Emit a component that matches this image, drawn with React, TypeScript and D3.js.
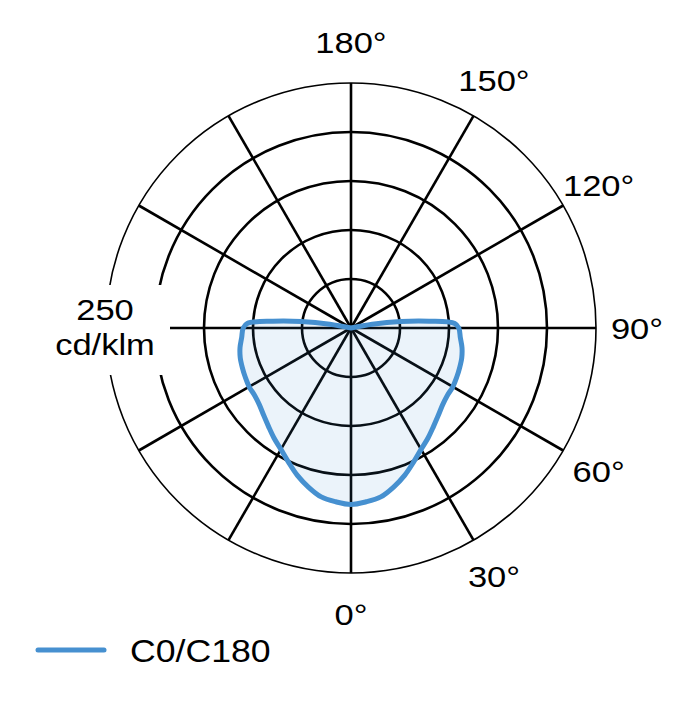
import React, { useEffect, useRef } from "react";
import * as d3 from "d3";

// gamma angles (deg from nadir) and intensity in cd/klm, C0/C180 plane (symmetric)
const gammaAngles = [
  0, 5, 10, 15, 20, 25, 30, 35, 40, 45, 50, 55, 60, 65, 70, 75, 80, 85, 90,
  92.5, 95, 97.5, 100, 102.5,
];
const c0c180Values = [
  180, 178, 175, 168, 160, 151, 143, 137, 131, 126, 122, 120, 120, 119, 118,
  117, 115, 112, 110, 106, 80, 51, 22, 0,
];
const ringValues = [50, 100, 150, 200, 250];
const spokeAngles = [0, 30, 60, 90, 120, 150, 180, 210, 240, 270, 300, 330];
const angleLabels = [0, 30, 60, 90, 120, 150, 180];
const seriesName = "C0/C180";
const unitLabel = ["250", "cd/klm"];

const App: React.FC = () => {
  const svgRef = useRef<SVGSVGElement | null>(null);

  useEffect(() => {
    const width = 680;
    const height = 720;
    const cx = 351;
    const cy = 328;
    const maxR = 245;
    const font = "'Liberation Sans', Arial, sans-serif";
    const blue = "#4690d0";
    const stretch = 1.15; // the reference face is wider than Arial

    const svg = d3
      .select(svgRef.current)
      .attr("width", width)
      .attr("height", height)
      .attr("viewBox", [0, 0, width, height]);
    svg.selectAll("*").remove();

    const r = d3.scaleLinear().domain([0, 250]).range([0, maxR]);
    // gamma 0 points down, 90 to the right
    const toRad = (deg: number) => Math.PI - (deg * Math.PI) / 180;

    const label = (
      parent: d3.Selection<any, any, any, any>,
      x: number,
      y: number,
      txt: string,
      size: number,
      anchor = "middle",
    ) =>
      parent
        .append("text")
        .attr("transform", `translate(${x},${y}) scale(${stretch},1)`)
        .attr("text-anchor", anchor)
        .style("font", `${size}px ${font}`)
        .text(txt);

    const g = svg.append("g").attr("transform", `translate(${cx},${cy})`);

    // rings
    g.selectAll(".ring")
      .data(ringValues)
      .enter()
      .append("circle")
      .attr("class", "ring")
      .attr("r", (d) => r(d))
      .attr("fill", "none")
      .attr("stroke", "#000")
      .attr("stroke-width", (d) => (d === 250 ? 1.6 : 2.6));

    // spokes
    g.selectAll(".spoke")
      .data(spokeAngles)
      .enter()
      .append("line")
      .attr("class", "spoke")
      .attr("x1", 0)
      .attr("y1", 0)
      .attr("x2", (d) => r(250) * Math.sin(toRad(d)))
      .attr("y2", (d) => -r(250) * Math.cos(toRad(d)))
      .attr("stroke", "#000")
      .attr("stroke-width", 2.6);

    // curve: C180 side mirrored on the left, C0 on the right
    const pts: [number, number][] = [];
    for (let i = gammaAngles.length - 1; i >= 0; i--)
      pts.push([-gammaAngles[i], c0c180Values[i]]);
    for (let i = 1; i < gammaAngles.length; i++)
      pts.push([gammaAngles[i], c0c180Values[i]]);

    const line = d3
      .lineRadial<[number, number]>()
      .angle((d) => toRad(d[0]))
      .radius((d) => r(d[1]))
      .curve(d3.curveCatmullRomClosed.alpha(0.5));

    g.append("path")
      .attr("d", line(pts))
      .attr("fill", blue)
      .attr("fill-opacity", 0.11)
      .attr("stroke", blue)
      .attr("stroke-width", 5)
      .attr("stroke-linejoin", "round");

    // unit label with white box
    svg
      .append("rect")
      .attr("x", 40)
      .attr("y", 285)
      .attr("width", 130)
      .attr("height", 90)
      .attr("fill", "#fff");
    label(svg, 105, 320, unitLabel[0], 30);
    label(svg, 105, 355, unitLabel[1], 30);

    // angle labels
    angleLabels.forEach((d) => {
      label(
        g,
        286 * Math.sin(toRad(d)),
        -286 * Math.cos(toRad(d)) + 11,
        `${d}°`,
        30,
      );
    });

    // legend
    svg
      .append("line")
      .attr("x1", 38)
      .attr("x2", 104)
      .attr("y1", 650)
      .attr("y2", 650)
      .attr("stroke", blue)
      .attr("stroke-width", 5)
      .attr("stroke-linecap", "round");
    label(svg, 130, 662, seriesName, 31, "start");
  }, []);

  return (
    <div style={{ position: "absolute", left: 0, top: 0 }}>
      <svg ref={svgRef}></svg>
    </div>
  );
};

export default App;
